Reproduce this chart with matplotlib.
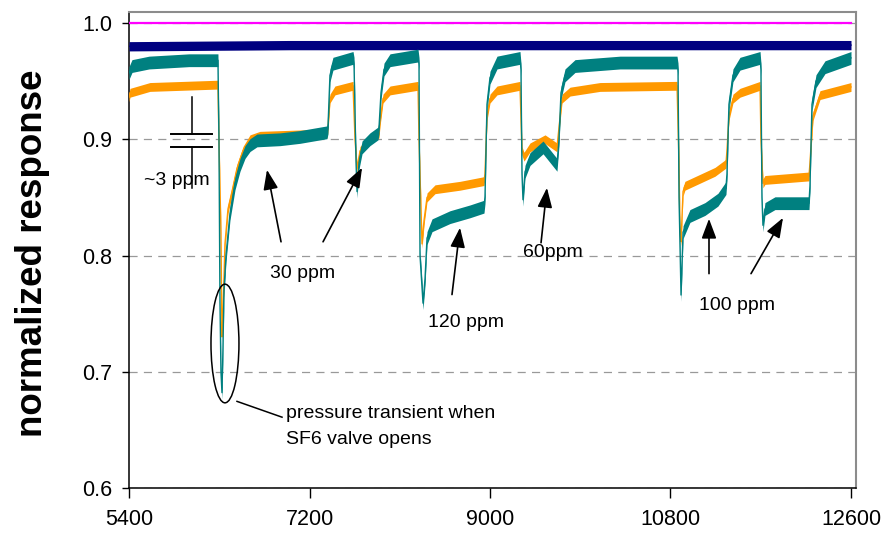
import matplotlib.pyplot as plt
import numpy as np
from matplotlib.patches import Ellipse

plt.rcParams['font.family'] = ['Liberation Sans', 'DejaVu Sans']

# time axis ticks
x_ticks = [5400, 7200, 9000, 10800, 12600]
y_ticks = [0.6, 0.7, 0.8, 0.9, 1.0]

# reference channel and baseline
ref_t = [5400, 12600]
ref_y = [1.0, 1.0]
base_t = [5400, 7000, 9000, 11000, 12600]
base_y = [0.980, 0.981, 0.981, 0.981, 0.981]

# sensor 1 (teal) response
teal_t = [5400, 5430, 5600, 6000, 6287, 6297, 6307, 6317, 6327, 6337, 6347,
          6367, 6407, 6457, 6507, 6557, 6607, 6676, 6906, 7105, 7374,
          7384, 7404, 7434, 7634, 7644, 7664, 7674, 7694, 7724, 7803, 7883,
          7893, 7913, 7943, 8003, 8282, 8292, 8302, 8332, 8352, 8372, 8422,
          8601, 8801, 8940, 8950, 8970, 9000, 9070, 9299, 9309, 9319, 9329,
          9349, 9399, 9529, 9668, 9688, 9708, 9748, 9848, 10297, 10865,
          10875, 10885, 10905, 10925, 10994, 11144, 11273, 11353, 11363,
          11383, 11423, 11493, 11693, 11702, 11712, 11722, 11742, 11842,
          12181, 12191, 12211, 12251, 12341, 12600]
teal_y = [0.957, 0.963, 0.966, 0.968, 0.968, 0.90, 0.76, 0.70, 0.682, 0.72,
          0.77, 0.80, 0.836, 0.862, 0.878, 0.889, 0.895, 0.899, 0.900, 0.902,
          0.906, 0.91, 0.955, 0.965, 0.970, 0.965, 0.88, 0.855, 0.88, 0.893,
          0.900, 0.905, 0.91, 0.94, 0.96, 0.968, 0.972, 0.965, 0.80, 0.759,
          0.78, 0.815, 0.826, 0.833, 0.838, 0.842, 0.85, 0.93, 0.953, 0.966,
          0.970, 0.96, 0.87, 0.848, 0.872, 0.883, 0.893, 0.878, 0.90, 0.94,
          0.955, 0.963, 0.966, 0.966, 0.96, 0.85, 0.766, 0.82, 0.834, 0.840,
          0.848, 0.858, 0.87, 0.93, 0.955, 0.965, 0.970, 0.96, 0.85, 0.826,
          0.84, 0.845, 0.845, 0.86, 0.93, 0.95, 0.962, 0.970]

# sensor 2 (orange) response
orange_t = [5400, 5410, 5609, 6287, 6297, 6317, 6327, 6337, 6357, 6387,
            6427, 6477, 6537, 6607, 6706, 7374, 7384, 7404, 7454, 7634,
            7654, 7674, 7704, 7803, 7893, 7903, 7933, 8003, 8282, 8292,
            8322, 8342, 8372, 8452, 8701, 8940, 8950, 8970, 9000, 9070,
            9299, 9319, 9339, 9399, 9549, 9668, 9688, 9718, 9798, 10097,
            10865, 10885, 10895, 10905, 10925, 10944, 11094, 11244, 11353,
            11363, 11383, 11423, 11493, 11693, 11702, 11722, 11742, 12181,
            12191, 12221, 12291, 12600]
orange_y = [0.936, 0.940, 0.945, 0.947, 0.90, 0.82, 0.73, 0.75, 0.81, 0.84,
            0.855, 0.875, 0.89, 0.900, 0.903, 0.905, 0.91, 0.935, 0.942,
            0.946, 0.90, 0.875, 0.89, 0.900, 0.905, 0.915, 0.935, 0.942,
            0.946, 0.90, 0.81, 0.83, 0.85, 0.857, 0.860, 0.864, 0.87, 0.92,
            0.935, 0.942, 0.946, 0.89, 0.885, 0.893, 0.900, 0.893, 0.91,
            0.935, 0.941, 0.945, 0.946, 0.88, 0.82, 0.812, 0.855, 0.86,
            0.866, 0.872, 0.879, 0.89, 0.92, 0.935, 0.940, 0.946, 0.90,
            0.862, 0.865, 0.868, 0.88, 0.92, 0.938, 0.945]

fig = plt.figure(figsize=(8.94, 5.38), dpi=100)
ax = fig.add_axes([0.1443, 0.0930, 0.8132, 0.8847])


def trace(t, y, color, spread, lw=1.0):
    t = np.asarray(t, float)
    y = np.asarray(y, float)
    # signal noise drawn as a band around the trace
    ax.fill_between(t, y - spread, y + spread, color=color, lw=0, zorder=3)
    ax.plot(t, y, color=color, lw=lw, zorder=3)


ax.plot(ref_t, ref_y, color='#FF00FF', lw=1.6, zorder=3)
trace(base_t, base_y, '#000080', 0.004)
trace(orange_t, orange_y, '#FF9900', 0.0038)
trace(teal_t, teal_y, '#008080', 0.0055)

ax.set_xlim(5400, 12650)
ax.set_ylim(0.6, 1.0095)
ax.set_xticks(x_ticks)
ax.set_yticks(y_ticks)
ax.set_yticklabels([f'{v:.1f}' for v in y_ticks])
ax.tick_params(axis='both', labelsize=15.5, direction='out', width=1.0,
               color='black')
ax.tick_params(axis='y', length=5, pad=7)
ax.tick_params(axis='x', length=7, pad=8)

ax.yaxis.grid(True, color='#999999', lw=0.9, ls=(0, (6.5, 5)))
ax.set_axisbelow(True)

for s in ('left', 'bottom'):
    ax.spines[s].set_color('black')
    ax.spines[s].set_linewidth(1.1)
for s in ('top', 'right'):
    ax.spines[s].set_color('#8c8c8c')
    ax.spines[s].set_linewidth(1.5)

ax.set_ylabel('normalized response', fontsize=26.5, fontweight='bold',
              va='center')
ax.yaxis.set_label_coords(-0.133, 0.494)

# "~3 ppm" scale marker
ax.plot([6028, 6028], [0.9362, 0.9045], color='black', lw=1.1, zorder=4)
ax.plot([6028, 6028], [0.8933, 0.8581], color='black', lw=1.1, zorder=4)
ax.plot([5819, 6228], [0.9045, 0.9045], color='black', lw=1.4, zorder=4)
ax.plot([5819, 6228], [0.8933, 0.8933], color='black', lw=1.4, zorder=4)
ax.text(5879, 0.8642, '~3 ppm', fontsize=14, ha='center', va='center',
        zorder=5)

arrow_kw = dict(arrowstyle='-|>,head_length=1.2,head_width=0.45',
                color='black', lw=1.2, shrinkA=0, shrinkB=0)
arrows = [((6916, 0.8118), (6776, 0.8737)),
          ((7335, 0.8118), (7724, 0.8755)),
          ((8621, 0.7664), (8701, 0.8239)),
          ((9509, 0.8110), (9568, 0.8582)),
          ((11184, 0.7844), (11184, 0.8316)),
          ((11603, 0.7844), (11922, 0.8324))]
for tail, tip in arrows:
    ax.annotate('', xy=tip, xytext=tail, arrowprops=arrow_kw, zorder=5)

labels = [(7135, 0.7843, '30 ppm'), (8761, 0.7424, '120 ppm'),
          (9628, 0.8024, '60ppm'), (11463, 0.7570, '100 ppm')]
for lx, ly, txt in labels:
    ax.text(lx, ly, txt, fontsize=14, ha='center', va='center', zorder=5)

# pressure transient callout
ax.add_patch(Ellipse((6357, 0.7243), 279, 0.1021, fill=False,
                     edgecolor='black', lw=1.1, zorder=5))
ax.plot([6477, 6926], [0.6745, 0.6609], color='black', lw=1.1, zorder=5)
ax.text(6966, 0.6643, 'pressure transient when', fontsize=14, ha='left',
        va='center', zorder=5)
ax.text(6966, 0.6420, 'SF6 valve opens', fontsize=14, ha='left',
        va='center', zorder=5)

fig.savefig('out.png', dpi=100)
